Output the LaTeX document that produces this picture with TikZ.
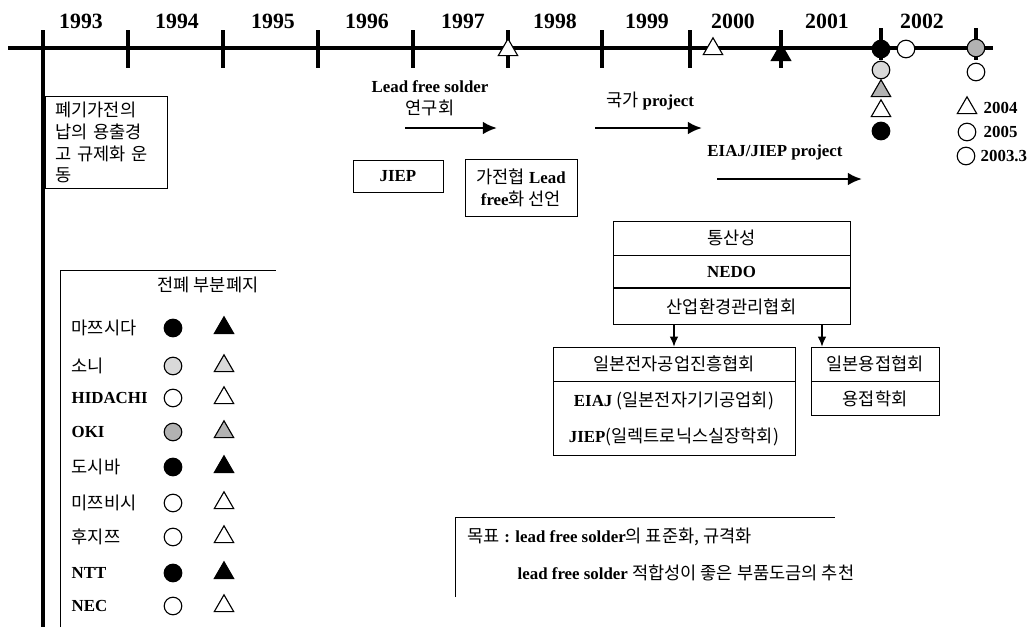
\documentclass[tikz,border=0pt]{standalone}
\usepackage{fontspec}
\setmainfont{Liberation Serif}
\newfontfamily\krfont{Noto Sans CJK KR}
\newcommand\kor[1]{{\krfont\mdseries\fontsize{12.5}{15.6}\selectfont #1}}
\usetikzlibrary{arrows.meta,positioning,shapes.geometric}

\begin{document}
\begin{tikzpicture}[x=0.025cm,y=-0.025cm,>={Latex[length=10pt,width=9pt]},
  every node/.style={font=\bfseries\fontsize{12}{15.6}\selectfont, inner sep=1pt},
  year/.style={font=\bfseries\fontsize{15.5}{17}\selectfont},
  box/.style={draw, line width=0.6pt, inner sep=2pt},
  roundmark/.style={circle, draw, line width=0.8pt, minimum size=0.44cm, inner sep=0pt},
  trimark/.style={regular polygon, regular polygon sides=3, draw, line width=0.8pt,
    minimum size=0.56cm, inner sep=0pt},
  grain/.style={fill=gray!30}, dense/.style={fill=gray!60}]
  \path[fill=white] (0,0) rectangle (1032,627);
  \useasboundingbox (0,0) rectangle (1032,627);

  % time axis
  \draw[line width=2.8pt] (8,48) -- (993,48);
  \draw[line width=2.2pt] (43,30) -- (43,627)
    (128,30) -- (128,68) (223,30) -- (223,68) (318,30) -- (318,68)
    (413,30) -- (413,68) (508,30) -- (508,68) (602,30) -- (602,68)
    (690,30) -- (690,68) (781,30) -- (781,68) (881,28) -- (881,60)
    (976,28) -- (976,60);
  \node[year] (y93) at (81,21) {1993};
  \node[year] (y94) at (177,21) {1994};
  \node[year] (y95) at (273,21) {1995};
  \node[year] (y96) at (367,21) {1996};
  \node[year] (y97) at (463,21) {1997};
  \node[year] (y98) at (555,21) {1998};
  \node[year] (y99) at (647,21) {1999};
  \node[year] (y00) at (733,21) {2000};
  \node[year] (y01) at (827,21) {2001};
  \node[year] (y02) at (922,21) {2002};

  % markers on the axis
  \node[trimark, fill=white] (m97) at (508,50) {};
  \node[trimark, fill=white] (m00) at (713,49) {};
  \node[trimark, fill=black] (m01) at (781,55) {};
  \node[roundmark, fill=black] (ma) at (881,49) {};
  \node[roundmark, grain] (mb) at (881,70) {};
  \node[trimark, dense] (mc) at (881,91) {};
  \node[trimark, fill=white] (md) at (881,111) {};
  \node[roundmark, fill=black] (me) at (881,131) {};
  \node[roundmark, fill=white] (mf) at (906,49) {};
  \node[roundmark, dense] (mg) at (976,48) {};
  \node[roundmark, fill=white] (mh) at (976,72) {};

  \node[trimark, fill=white] (k04) at (967,108) {};
  \node[anchor=west] (l04) at (982,108) {2004};
  \node[roundmark, fill=white] (k05) at (967,132) {};
  \node[anchor=west] (l05) at (982,132) {2005};
  \node[roundmark, fill=white] (k03) at (966,156) {};
  \node[anchor=west] (l03) at (979,156) {2003.3};

  % projects
  \node[align=center] (lfs) at (430,98) {Lead free solder\\\kor{연구회}};
  \coordinate (lfsa) at (405,128);
  \coordinate (lfsb) at (497,128);
  \node (nat) at (650,101) {\kor{국가} project};
  \coordinate (nata) at (595,128);
  \coordinate (natb) at (702,128);
  \node (ej) at (775,152) {EIAJ/JIEP project};
  \coordinate (eja) at (717,179);
  \coordinate (ejb) at (862,179);
  \draw[->, line width=1.8pt] (lfsa) -- (lfsb);
  \draw[->, line width=1.8pt] (nata) -- (natb);
  \draw[->, line width=1.8pt] (eja) -- (ejb);

  \node[box, anchor=north west, align=left, text width=2.55cm, minimum height=2.3cm,
    inner xsep=0.25cm] (haste) at (45,96)
    {\kor{폐기가전의}\\\kor{납의 용출경}\\\kor{고 규제화 운}\\\kor{동}};
  \node[box, minimum width=2.25cm, minimum height=0.8cm] (jiep) at (398,176) {JIEP};
  \node[box, align=center, minimum width=2.8cm, minimum height=1.425cm] (decl) at (521,188)
    {\kor{가전협} Lead\\free\kor{화 선언}};

  % organisations
  \node[box, minimum width=5.925cm, minimum height=0.85cm] (miti) at (731.5,238) {\kor{통산성}};
  \node[box, minimum width=5.925cm, minimum height=0.8cm, below=0pt of miti] (nedo) {NEDO};
  \node[box, minimum width=5.925cm, minimum height=0.9cm, below=0pt of nedo] (cemc)
    {\kor{산업환경관리협회}};
  \node[box, minimum width=6.05cm, minimum height=0.85cm] (jeida) at (674,364)
    {\kor{일본전자공업진흥협회}};
  \node[box, align=center, minimum width=6.05cm, minimum height=1.85cm, below=0pt of jeida]
    (eiaj) {EIAJ \kor{(일본전자기기공업회)}\\[10pt]JIEP\kor{(일렉트로닉스실장학회)}};
  \node[box, minimum width=3.2cm, minimum height=0.85cm] (jws) at (875,364)
    {\kor{일본용접협회}};
  \node[box, minimum width=3.2cm, minimum height=0.85cm, below=0pt of jws] (jwsoc)
    {\kor{용접학회}};
  \coordinate (wdrop) at (822,0);
  \draw[->, line width=0.8pt, >={Latex[length=7pt,width=6pt]}]
    (cemc.south -| jeida.north) -- (jeida.north);
  \draw[->, line width=0.8pt, >={Latex[length=7pt,width=6pt]}]
    (cemc.south -| wdrop) -- (jws.north -| wdrop);

  % goal
  \draw[line width=0.6pt] (455,597) -- (455,517) -- (835,517);
  \node[anchor=west] (goal) at (466,537) {\kor{목표} : lead free solder\kor{의 표준화, 규격화}};
  \node[anchor=west] (rec) at (516,573) {lead free solder \kor{적합성이 좋은 부품도금의 추천}};

  % makers and their markers
  \draw[line width=0.6pt] (60,627) -- (60,270) -- (276,270);
  \node (hdr) at (208,285) {\kor{전폐 부분폐지}};
  \node[anchor=west] (n1) at (70,328) {\kor{마쯔시다}};
  \node[roundmark, fill=black] (c1) at (173,328) {};
  \node[trimark, fill=black] (t1) at (224,328) {};
  \node[anchor=west] (n2) at (70,366) {\kor{소니}};
  \node[roundmark, grain] (c2) at (173,366) {};
  \node[trimark, grain] (t2) at (224,366) {};
  \node[anchor=west] (n3) at (70,398) {HIDACHI};
  \node[roundmark, fill=white] (c3) at (173,398) {};
  \node[trimark, fill=white] (t3) at (224,398) {};
  \node[anchor=west] (n4) at (70,432) {OKI};
  \node[roundmark, dense] (c4) at (173,432) {};
  \node[trimark, dense] (t4) at (224,432) {};
  \node[anchor=west] (n5) at (70,467) {\kor{도시바}};
  \node[roundmark, fill=black] (c5) at (173,467) {};
  \node[trimark, fill=black] (t5) at (224,467) {};
  \node[anchor=west] (n6) at (70,503) {\kor{미쯔비시}};
  \node[roundmark, fill=white] (c6) at (173,503) {};
  \node[trimark, fill=white] (t6) at (224,503) {};
  \node[anchor=west] (n7) at (70,537) {\kor{후지쯔}};
  \node[roundmark, fill=white] (c7) at (173,537) {};
  \node[trimark, fill=white] (t7) at (224,537) {};
  \node[anchor=west] (n8) at (70,573) {NTT};
  \node[roundmark, fill=black] (c8) at (173,573) {};
  \node[trimark, fill=black] (t8) at (224,573) {};
  \node[anchor=west] (n9) at (70,606) {NEC};
  \node[roundmark, fill=white] (c9) at (173,606) {};
  \node[trimark, fill=white] (t9) at (224,606) {};
\end{tikzpicture}
\end{document}
